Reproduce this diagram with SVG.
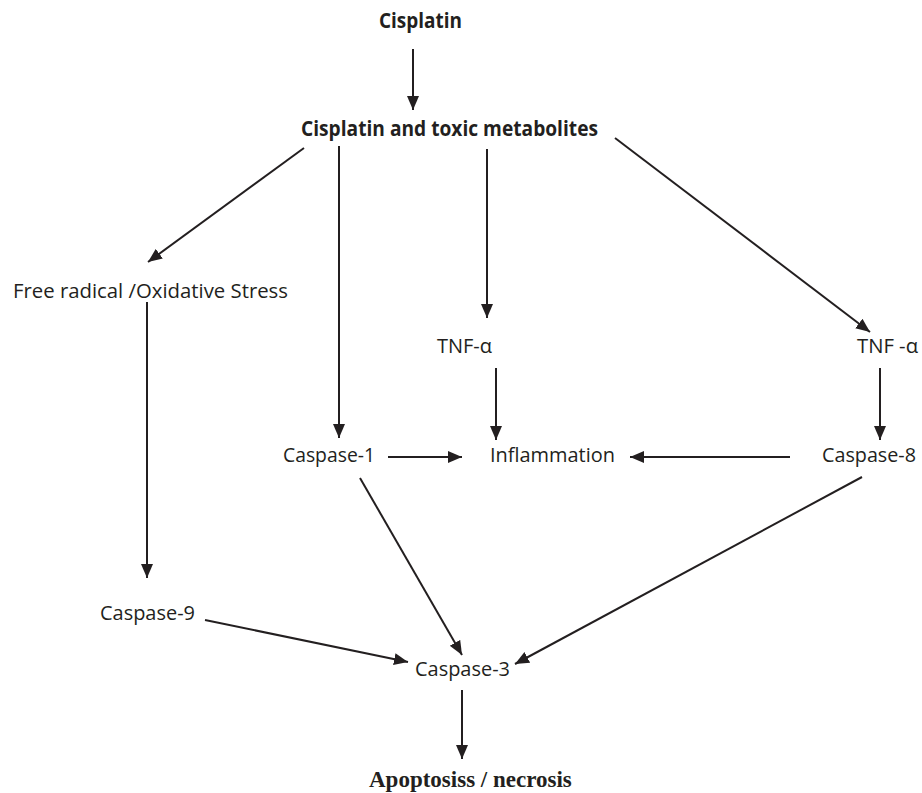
<svg xmlns="http://www.w3.org/2000/svg" width="922" height="793" viewBox="0 0 922 793">
<style>
.t{font-family:"Open Sans","Liberation Sans",sans-serif;font-size:20px;fill:#231f20}
.b{font-weight:bold;font-size:21px}
.s{font-family:"Liberation Serif","Times New Roman",serif;font-weight:bold;font-size:23px;fill:#231f20}
.c line{stroke:#231f20;stroke-width:2;marker-end:url(#ah)}
</style>
<defs>
<marker id="ah" markerUnits="userSpaceOnUse" markerWidth="14" markerHeight="14" viewBox="0 0 14 14" refX="14" refY="7" orient="auto">
<path d="M0,1 L14,7 L0,13 z" fill="#231f20"/>
</marker>
</defs>
<rect width="922" height="793" fill="#fff"/>
<g id="cisplatin"><text class="t b" x="379" y="28" textLength="83" lengthAdjust="spacingAndGlyphs">Cisplatin</text></g>
<g id="metabolites"><text class="t b" x="301" y="136" textLength="297" lengthAdjust="spacingAndGlyphs">Cisplatin and toxic metabolites</text></g>
<g id="freeradical"><text class="t" x="13" y="298" textLength="275" lengthAdjust="spacingAndGlyphs">Free radical /Oxidative Stress</text></g>
<g id="tnf1"><text class="t" x="437" y="353" textLength="55" lengthAdjust="spacingAndGlyphs">TNF-α</text></g>
<g id="tnf2"><text class="t" x="857" y="353" textLength="61" lengthAdjust="spacingAndGlyphs">TNF -α</text></g>
<g id="casp1"><text class="t" x="283" y="462" textLength="92" lengthAdjust="spacingAndGlyphs">Caspase-1</text></g>
<g id="inflammation"><text class="t" x="490" y="462" textLength="125" lengthAdjust="spacingAndGlyphs">Inflammation</text></g>
<g id="casp8"><text class="t" x="822" y="462" textLength="94" lengthAdjust="spacingAndGlyphs">Caspase-8</text></g>
<g id="casp9"><text class="t" x="100" y="620" textLength="95" lengthAdjust="spacingAndGlyphs">Caspase-9</text></g>
<g id="casp3"><text class="t" x="415" y="676" textLength="95" lengthAdjust="spacingAndGlyphs">Caspase-3</text></g>
<g id="apoptosis"><text class="s" x="369" y="787">Apoptosiss / necrosis</text></g>
<g class="c" id="connectors">
<line x1="413" y1="49" x2="413" y2="110"/>
<line x1="304" y1="148" x2="148" y2="262"/>
<line x1="339" y1="146" x2="339" y2="438"/>
<line x1="487" y1="149" x2="487" y2="318"/>
<line x1="615" y1="138" x2="870" y2="332"/>
<line x1="496" y1="368" x2="496" y2="440"/>
<line x1="880" y1="368" x2="880" y2="440"/>
<line x1="388" y1="457" x2="462" y2="457"/>
<line x1="790" y1="457" x2="630" y2="457"/>
<line x1="147" y1="302" x2="147" y2="578"/>
<line x1="360" y1="478" x2="462" y2="655"/>
<line x1="862" y1="477" x2="515" y2="664"/>
<line x1="205" y1="620" x2="408" y2="662"/>
<line x1="462" y1="690" x2="462" y2="759"/>
</g>
</svg>
